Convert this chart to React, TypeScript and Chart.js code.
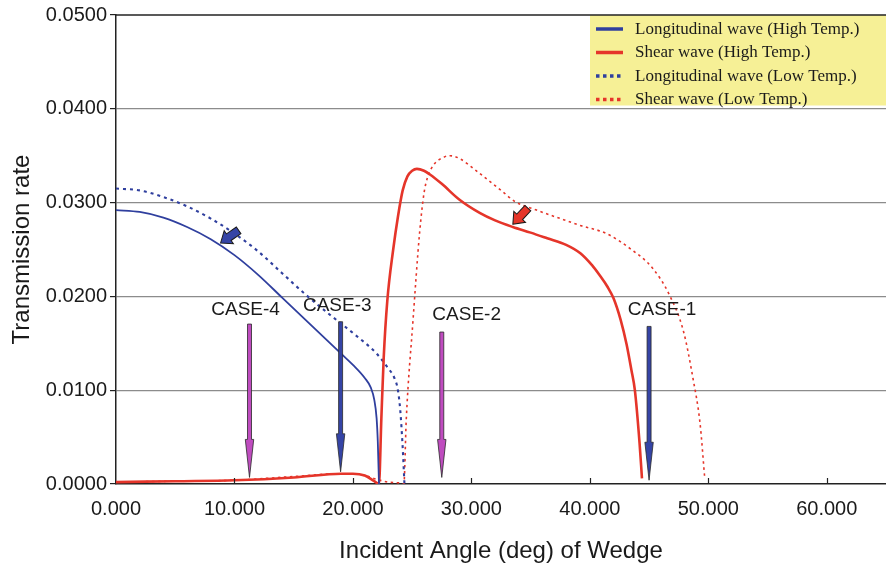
import React, { useEffect, useRef } from 'react';
import { Chart, registerables } from 'chart.js';

Chart.register(...registerables);

// ---- axis ticks ----
const xTicks = [0, 10, 20, 30, 40, 50, 60];
const yTicks = [0, 0.01, 0.02, 0.03, 0.04, 0.05];

// ---- series ----
const seriesLabels = [
  'Longitudinal wave (High Temp.)',
  'Shear wave (High Temp.)',
  'Longitudinal wave (Low Temp.)',
  'Shear wave (Low Temp.)',
];

const longHighAngle = [0, 2, 4, 6, 8, 10, 12, 14, 16, 18, 19, 20, 21, 21.5, 21.8, 22.0, 22.1, 22.2];
const longHighRate = [0.0292, 0.0290, 0.0284, 0.0274, 0.0261, 0.0244, 0.0223, 0.0199, 0.0175, 0.0151, 0.0139, 0.0127, 0.0113, 0.0103, 0.0090, 0.0070, 0.0045, 0.0];

const shearHighAngle = [0, 5, 10, 15, 19, 20, 21, 21.8, 22.2, 22.4, 22.6, 22.9, 23.4, 23.8, 24.2, 24.6, 25.0, 25.4, 26.0, 26.5, 27.5, 29.0, 30.7, 32.0, 33.5, 35.0, 36.4, 38.0, 39.2, 40.2, 40.8, 41.5, 42.0, 42.6, 43.1, 43.5, 43.8, 44.2, 44.4];
const shearHighRate = [0.0002, 0.0003, 0.0004, 0.0007, 0.0011, 0.0011, 0.0009, 0.0003, 0.0, 0.0070, 0.0135, 0.0195, 0.0250, 0.0285, 0.0313, 0.0328, 0.0334, 0.0336, 0.0334, 0.0330, 0.0320, 0.0303, 0.0289, 0.0281, 0.0274, 0.0268, 0.0262, 0.0255, 0.0246, 0.0233, 0.0223, 0.0210, 0.0198, 0.0175, 0.0149, 0.0122, 0.0100, 0.0043, 0.0006];

const longLowAngle = [0, 2, 4, 6, 8, 10, 12, 14, 16, 18, 20, 22, 23, 23.5, 23.8, 24.0, 24.2, 24.35];
const longLowRate = [0.0315, 0.0313, 0.0306, 0.0296, 0.0283, 0.0267, 0.0248, 0.0225, 0.0202, 0.0181, 0.0161, 0.0139, 0.0123, 0.0113, 0.0100, 0.0078, 0.0039, 0.0];

const shearLowAngle = [0, 5, 10, 15, 19, 20, 21, 22, 23, 24, 24.3, 24.5, 25.07, 25.63, 26.0, 26.3, 26.6, 27.0, 27.6, 28.2, 29.0, 30.4, 32.6, 33.7, 35.5, 37.5, 39.1, 41.4, 43.4, 45.3, 46.7, 47.9, 48.7, 49.3, 49.7];
const shearLowRate = [0.0002, 0.0003, 0.0004, 0.0008, 0.0011, 0.0011, 0.0009, 0.0005, 0.0002, 0.0001, 0.0, 0.0068, 0.0174, 0.0268, 0.0310, 0.0327, 0.0336, 0.0343, 0.0348, 0.0350, 0.0347, 0.0334, 0.0312, 0.0301, 0.0292, 0.0283, 0.0276, 0.0267, 0.0251, 0.0230, 0.0202, 0.0163, 0.0113, 0.0065, 0.0006];

// ---- CASE annotations ----
const caseLabels = ['CASE-1', 'CASE-2', 'CASE-3', 'CASE-4'];
const caseArrowAngle = [45.0, 27.5, 18.96, 11.27];
const caseArrowTop = [0.0168, 0.0162, 0.0173, 0.01705];
const caseArrowTip = [0.0004, 0.0007, 0.0013, 0.0007];
const caseLabelAngle = [46.1, 29.6, 18.68, 10.94];
const caseLabelRate = [0.0186, 0.0180, 0.0190, 0.0186];

// ---- small pointer arrows ----
const markerAngle = [8.83, 33.5];
const markerRate = [0.0257, 0.0277];

const BLUE = '#2f3f9e';
const RED = '#e5352a';
const MAGENTA = '#bf4cbf';
const ARROW_BLUE = '#3544a6';
const caseColors = [ARROW_BLUE, MAGENTA, ARROW_BLUE, MAGENTA];
const markerColors = [ARROW_BLUE, RED];
const markerDir = [145, 133];

const SANS = '"Liberation Sans", Arial, Helvetica, sans-serif';
const SERIF = '"Liberation Serif", "Times New Roman", serif';

const toPoints = (xs: number[], ys: number[]) => xs.map((v, i) => ({ x: v, y: ys[i] }));

const seriesStyle = [
  { color: BLUE, width: 1.8, dash: [] as number[], legendWidth: 3.5, legendDash: [] as number[] },
  { color: RED, width: 2.6, dash: [] as number[], legendWidth: 3.5, legendDash: [] as number[] },
  { color: BLUE, width: 2.1, dash: [3, 4], legendWidth: 3.5, legendDash: [3.5, 3.5] },
  { color: RED, width: 1.6, dash: [2.5, 3.5], legendWidth: 3.5, legendDash: [3.5, 3.5] },
];

const annotationPlugin = {
  id: 'annotations',
  afterDatasetsDraw(chart: any) {
    const { ctx, chartArea, scales } = chart;
    const x = scales.x;
    const y = scales.y;
    ctx.save();

    // inward x tick marks
    ctx.strokeStyle = '#222';
    ctx.lineWidth = 1.2;
    xTicks.forEach((v) => {
      if (v === 0) return;
      const px = Math.round(x.getPixelForValue(v)) + 0.5;
      ctx.beginPath();
      ctx.moveTo(px, chartArea.bottom);
      ctx.lineTo(px, chartArea.bottom - 6);
      ctx.stroke();
    });

    // CASE vertical arrows
    caseLabels.forEach((lab, i) => {
      const px = x.getPixelForValue(caseArrowAngle[i]);
      const top = y.getPixelForValue(caseArrowTop[i]);
      const tip = y.getPixelForValue(caseArrowTip[i]);
      const headStart = tip - 38;
      ctx.beginPath();
      ctx.moveTo(px - 2, top);
      ctx.lineTo(px + 2, top);
      ctx.lineTo(px + 2, headStart);
      ctx.lineTo(px + 4.2, headStart);
      ctx.lineTo(px, tip);
      ctx.lineTo(px - 4.2, headStart);
      ctx.lineTo(px - 2, headStart);
      ctx.closePath();
      ctx.fillStyle = caseColors[i];
      ctx.fill();
      ctx.setLineDash([]);
      ctx.strokeStyle = '#2a2a2a';
      ctx.lineWidth = 0.8;
      ctx.stroke();

      ctx.fillStyle = '#1a1a1a';
      ctx.font = `19px ${SANS}`;
      ctx.textAlign = 'center';
      ctx.textBaseline = 'middle';
      ctx.fillText(lab, x.getPixelForValue(caseLabelAngle[i]), y.getPixelForValue(caseLabelRate[i]));
    });

    // block pointer arrows
    markerAngle.forEach((a, i) => {
      const tx = x.getPixelForValue(a);
      const ty = y.getPixelForValue(markerRate[i]);
      ctx.save();
      ctx.translate(tx, ty);
      ctx.rotate((markerDir[i] * Math.PI) / 180);
      const L = 22, hl = 10, hw = 8, sw = 4;
      ctx.beginPath();
      ctx.moveTo(0, 0);
      ctx.lineTo(-hl, -hw);
      ctx.lineTo(-hl, -sw);
      ctx.lineTo(-L, -sw);
      ctx.lineTo(-L, sw);
      ctx.lineTo(-hl, sw);
      ctx.lineTo(-hl, hw);
      ctx.closePath();
      ctx.fillStyle = markerColors[i];
      ctx.fill();
      ctx.strokeStyle = '#1a1a1a';
      ctx.lineWidth = 1;
      ctx.stroke();
      ctx.restore();
    });

    ctx.restore();
  },
  afterDraw(chart: any) {
    const { ctx, chartArea } = chart;
    ctx.save();

    // legend box
    const boxLeft = chartArea.right - 296;
    const boxTop = chartArea.top;
    const boxBottom = 105.5;
    ctx.fillStyle = '#f6f096';
    ctx.fillRect(boxLeft, boxTop, chartArea.right - boxLeft, boxBottom - boxTop);
    seriesLabels.forEach((lab, i) => {
      const cy = boxTop + 14 + i * 23.5;
      const st = seriesStyle[i];
      ctx.beginPath();
      ctx.setLineDash(st.legendDash);
      ctx.strokeStyle = st.color;
      ctx.lineWidth = st.legendWidth;
      ctx.moveTo(boxLeft + 6, cy);
      ctx.lineTo(boxLeft + 33, cy);
      ctx.stroke();
      ctx.setLineDash([]);
      ctx.fillStyle = '#1a1a1a';
      ctx.font = `17px ${SERIF}`;
      ctx.textAlign = 'left';
      ctx.textBaseline = 'middle';
      ctx.fillText(lab, boxLeft + 45, cy + 0.5);
    });

    // top border
    ctx.setLineDash([]);
    ctx.strokeStyle = '#222';
    ctx.lineWidth = 1.5;
    ctx.beginPath();
    ctx.moveTo(chartArea.left, chartArea.top);
    ctx.lineTo(chartArea.right, chartArea.top);
    ctx.stroke();

    // axis titles
    ctx.fillStyle = '#1a1a1a';
    ctx.font = `24px ${SANS}`;
    ctx.textAlign = 'center';
    ctx.textBaseline = 'middle';
    ctx.fillText('Incident Angle (deg) of Wedge', (chartArea.left + chartArea.right) / 2, 551);
    ctx.save();
    ctx.translate(22, (chartArea.top + chartArea.bottom) / 2);
    ctx.rotate(-Math.PI / 2);
    ctx.fillText('Transmission rate', 0, 0);
    ctx.restore();

    ctx.restore();
  },
};

export default function App() {
  const ref = useRef<HTMLCanvasElement>(null);
  useEffect(() => {
    document.body.style.margin = '0';
    const seriesData = [
      toPoints(longHighAngle, longHighRate),
      toPoints(shearHighAngle, shearHighRate),
      toPoints(longLowAngle, longLowRate),
      toPoints(shearLowAngle, shearLowRate),
    ];
    const chart = new Chart(ref.current as HTMLCanvasElement, {
      type: 'line',
      data: {
        datasets: seriesLabels.map((label, i) => ({
          label,
          data: seriesData[i],
          borderColor: seriesStyle[i].color,
          backgroundColor: seriesStyle[i].color,
          borderWidth: seriesStyle[i].width,
          borderDash: seriesStyle[i].dash,
          pointRadius: 0,
          fill: false,
          cubicInterpolationMode: 'monotone' as const,
        })),
      },
      options: {
        animation: false,
        responsive: false,
        devicePixelRatio: 1,
        layout: { padding: { top: 13, right: 0, left: 0, bottom: 0 } },
        plugins: { legend: { display: false }, tooltip: { enabled: false } },
        scales: {
          x: {
            type: 'linear',
            min: 0,
            max: 65,
            afterBuildTicks: (scale: any) => {
              scale.ticks = xTicks.map((v) => ({ value: v }));
            },
            afterFit: (scale: any) => {
              scale.height = 86;
            },
            ticks: {
              callback: (v: any) => Number(v).toFixed(3),
              font: { size: 20, family: SANS },
              color: '#1a1a1a',
              padding: 13,
              maxRotation: 0,
              autoSkip: false,
            },
            grid: { display: true, drawOnChartArea: false, drawTicks: false },
            border: { display: true, color: '#222', width: 1.5 },
          },
          y: {
            type: 'linear',
            min: 0,
            max: 0.05,
            afterBuildTicks: (scale: any) => {
              scale.ticks = yTicks.map((v) => ({ value: v }));
            },
            afterFit: (scale: any) => {
              scale.width = 116;
            },
            ticks: {
              callback: (v: any) => Number(v).toFixed(4),
              font: { size: 20, family: SANS },
              color: '#1a1a1a',
              padding: 3,
              autoSkip: false,
            },
            grid: {
              display: true,
              drawOnChartArea: true,
              drawTicks: true,
              tickLength: 6,
              tickColor: '#222',
              lineWidth: 1.2,
              color: (c: any) =>
                c.tick && c.tick.value > 0.001 && c.tick.value < 0.049 ? '#8c8c8c' : 'rgba(0,0,0,0)',
            },
            border: { display: true, color: '#222', width: 1.5 },
          },
        },
      },
      plugins: [annotationPlugin],
    } as any);
    return () => chart.destroy();
  }, []);
  return (
    <div style={{ position: 'absolute', left: 0, top: 0, width: 886, height: 570 }}>
      <canvas ref={ref} width={886} height={570} style={{ display: 'block' }} />
    </div>
  );
}
